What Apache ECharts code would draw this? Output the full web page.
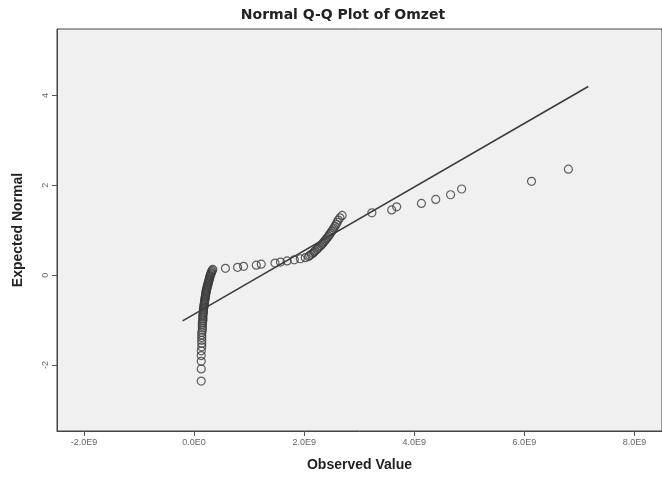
<!DOCTYPE html>
<html>
<head>
<meta charset="utf-8">
<script src="https://cdn.jsdelivr.net/npm/echarts@6/dist/echarts.min.js"></script>
<style>html,body{margin:0;padding:0;background:#fff;}#c{width:662px;height:477px;}</style>
</head>
<body>
<div id="c"></div>
<script>
const observed = [
  6.80e9, 6.13e9, 4.86e9, 4.66e9, 4.39e9, 4.13e9, 3.68e9, 3.59e9, 3.23e9, 2.69e9,
  2.65e9, 2.62e9, 2.60e9, 2.58e9, 2.56e9, 2.54e9, 2.52e9, 2.50e9, 2.48e9, 2.46e9,
  2.44e9, 2.42e9, 2.40e9, 2.38e9, 2.36e9, 2.34e9, 2.32e9, 2.30e9, 2.27e9, 2.25e9,
  2.23e9, 2.20e9, 2.18e9, 2.16e9, 2.13e9, 2.10e9, 2.08e9, 2.02e9, 1.93e9, 1.82e9,
  1.69e9, 1.57e9, 1.47e9, 1.22e9, 1.13e9, 0.90e9, 0.79e9, 0.57e9, 0.34e9, 0.33e9,
  0.32e9, 0.31e9, 0.31e9, 0.30e9, 0.29e9, 0.29e9, 0.28e9, 0.28e9, 0.27e9, 0.27e9,
  0.26e9, 0.26e9, 0.25e9, 0.25e9, 0.24e9, 0.24e9, 0.23e9, 0.23e9, 0.22e9, 0.22e9,
  0.22e9, 0.21e9, 0.21e9, 0.21e9, 0.20e9, 0.20e9, 0.20e9, 0.19e9, 0.19e9, 0.19e9,
  0.18e9, 0.18e9, 0.18e9, 0.17e9, 0.17e9, 0.17e9, 0.17e9, 0.16e9, 0.16e9, 0.16e9,
  0.16e9, 0.16e9, 0.15e9, 0.15e9, 0.15e9, 0.15e9, 0.15e9, 0.14e9, 0.14e9, 0.14e9,
  0.14e9, 0.14e9, 0.14e9, 0.13e9, 0.13e9, 0.13e9, 0.13e9, 0.13e9
];
const expected = [
  2.359, 2.089, 1.918, 1.790, 1.686, 1.597, 1.520, 1.451, 1.388, 1.330,
  1.276, 1.226, 1.178, 1.134, 1.091, 1.050, 1.011, 0.974, 0.937, 0.902,
  0.868, 0.835, 0.803, 0.772, 0.741, 0.711, 0.682, 0.653, 0.624, 0.597,
  0.570, 0.543, 0.516, 0.490, 0.464, 0.439, 0.414, 0.389, 0.365, 0.340,
  0.316, 0.292, 0.268, 0.244, 0.221, 0.197, 0.174, 0.151, 0.127, 0.104,
  0.081, 0.058, 0.035, 0.012, -0.012, -0.035, -0.058, -0.081, -0.104, -0.127,
  -0.151, -0.174, -0.197, -0.221, -0.244, -0.268, -0.292, -0.316, -0.340, -0.365,
  -0.389, -0.414, -0.439, -0.464, -0.490, -0.516, -0.543, -0.570, -0.597, -0.624,
  -0.653, -0.682, -0.711, -0.741, -0.772, -0.803, -0.835, -0.868, -0.902, -0.937,
  -0.974, -1.011, -1.050, -1.091, -1.134, -1.178, -1.226, -1.276, -1.330, -1.388,
  -1.451, -1.520, -1.597, -1.686, -1.790, -1.918, -2.089, -2.359
];
// Reference line end points
const lineX = [-0.208e9, 7.16e9];
const lineY = [-1.017, 4.20];
// Tick values
const xTicks = [-2e9, 0, 2e9, 4e9, 6e9, 8e9];
const yTicks = [-2, 0, 2, 4];

function fmtX(v) {
  if (v === 0) return '0.0E0';
  return (v / 1e9).toFixed(1) + 'E9';
}

const chart = echarts.init(document.getElementById('c'), null, {renderer: 'canvas'});
chart.setOption({
  animation: false,
  backgroundColor: '#ffffff',
  title: {
    text: 'Normal Q-Q Plot of Omzet',
    left: 338, textAlign: 'center', top: 3,
    textStyle: {fontFamily: 'DejaVu Sans, sans-serif', fontWeight: 'bold', fontSize: 14, color: '#222'}
  },
  grid: {
    left: 57, right: -2, top: 29, bottom: 43,
    show: true, backgroundColor: '#f0f0f0', borderColor: '#444', borderWidth: 1
  },
  xAxis: {
    type: 'value', min: -2.49e9, max: 8.5e9,
    name: 'Observed Value', nameLocation: 'middle', nameGap: 27,
    nameTextStyle: {fontFamily: 'Liberation Sans, Arial, sans-serif', fontWeight: 'bold', fontSize: 14, color: '#222'},
    axisLine: {show: true, onZero: false, lineStyle: {color: '#444', width: 1}},
    axisTick: {show: true, inside: false, length: 5, customValues: xTicks, lineStyle: {color: '#555'}},
    axisLabel: {customValues: xTicks, formatter: fmtX, fontSize: 9, color: '#666', margin: 7,
      fontFamily: 'Liberation Sans, Arial, sans-serif'},
    splitLine: {show: false}
  },
  yAxis: {
    type: 'value', min: -3.47, max: 5.48,
    name: 'Expected Normal', nameLocation: 'middle', nameGap: 32,
    nameTextStyle: {fontFamily: 'Liberation Sans, Arial, sans-serif', fontWeight: 'bold', fontSize: 14, color: '#222'},
    axisLine: {show: true, onZero: false, lineStyle: {color: '#444', width: 1}},
    axisTick: {show: true, inside: false, length: 5, customValues: yTicks, lineStyle: {color: '#555'}},
    axisLabel: {customValues: yTicks, rotate: 90, fontSize: 9, color: '#666', margin: 7,
      fontFamily: 'Liberation Sans, Arial, sans-serif'},
    splitLine: {show: false}
  },
  series: [
    {
      type: 'line',
      data: lineX.map((x, i) => [x, lineY[i]]),
      symbol: 'none', silent: true,
      lineStyle: {color: '#3a3a3a', width: 1.5},
      z: 1
    },
    {
      type: 'scatter',
      data: observed.map((x, i) => [x, expected[i]]),
      symbol: 'circle', symbolSize: 8,
      itemStyle: {color: 'rgba(0,0,0,0)', borderColor: '#3c3c3c', borderWidth: 1.2},
      z: 2
    }
  ]
});
</script>
</body>
</html>
